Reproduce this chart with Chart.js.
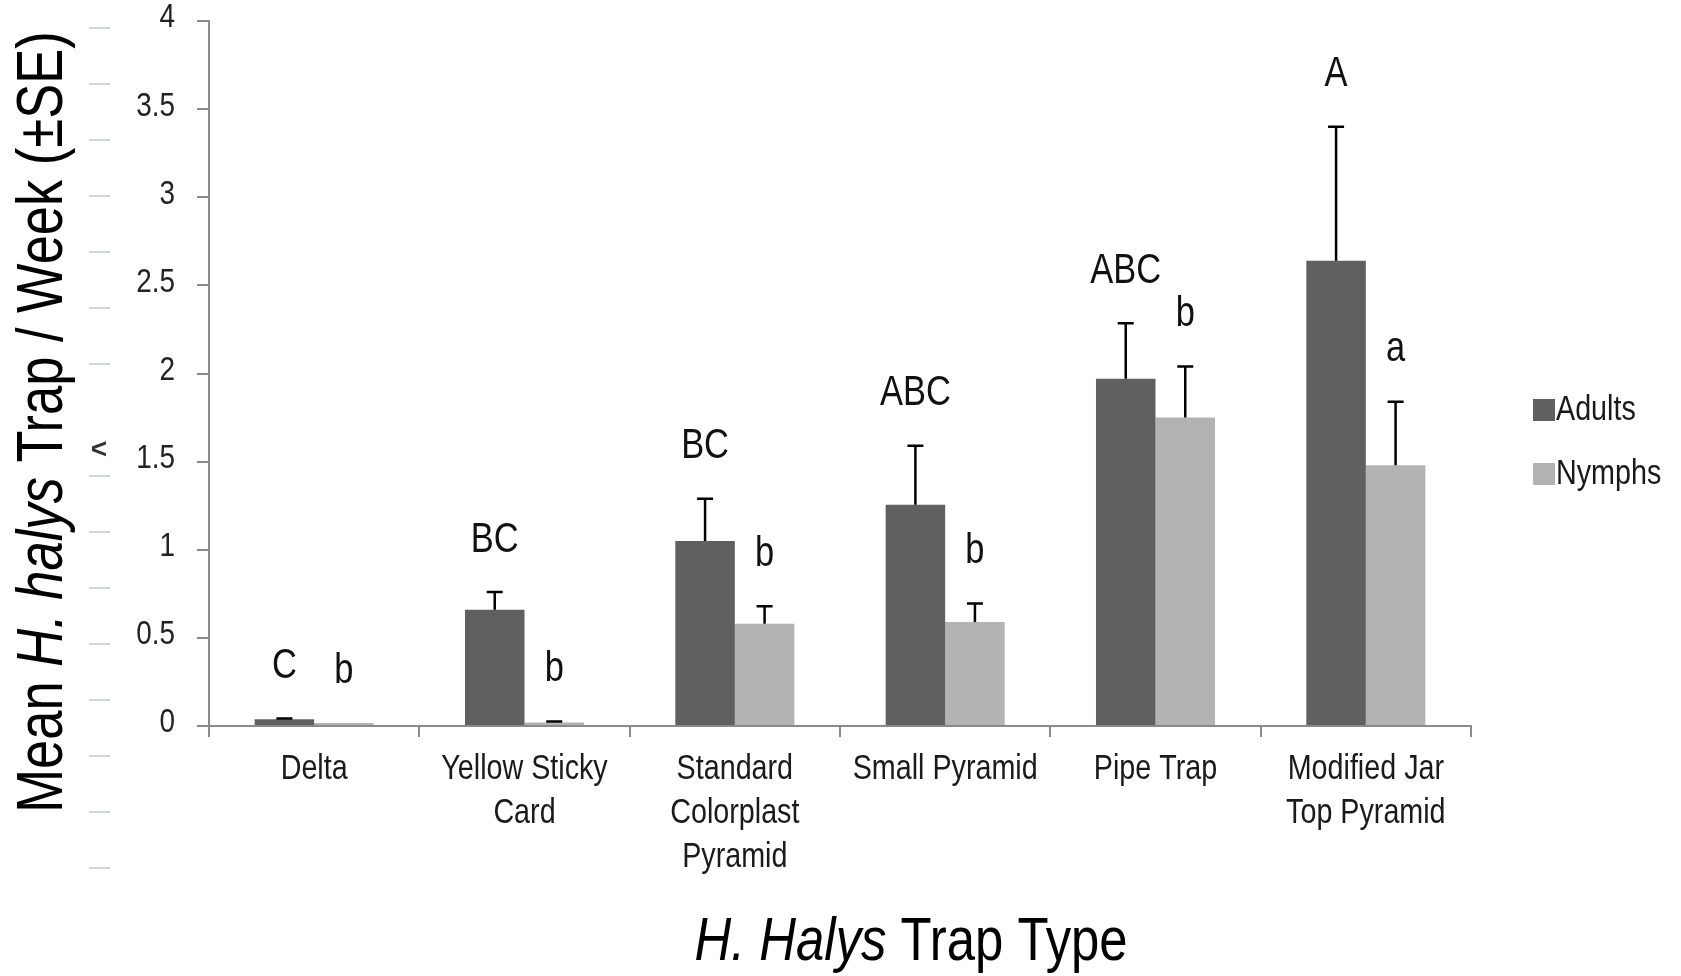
<!DOCTYPE html>
<html>
<head>
<meta charset="utf-8">
<script src="https://cdn.jsdelivr.net/npm/chart.js@4/dist/chart.umd.min.js"></script>
<style>
  html, body { margin: 0; padding: 0; background: #fff; }
  #wrap { width: 1681px; height: 976px; }
</style>
</head>
<body>
<div id="wrap"><canvas id="chart" width="1681" height="976"></canvas></div>
<script>
const categories = [
  ['Delta'],
  ['Yellow Sticky', 'Card'],
  ['Standard', 'Colorplast', 'Pyramid'],
  ['Small Pyramid'],
  ['Pipe Trap'],
  ['Modified Jar', 'Top Pyramid']
];
const adults = [0.038, 0.66, 1.05, 1.255, 1.97, 2.64];
const adultsSE = [0.005, 0.10, 0.24, 0.335, 0.315, 0.76];
const nymphs = [0.017, 0.02, 0.58, 0.59, 1.75, 1.48];
const nymphsSE = [0, 0.006, 0.10, 0.105, 0.29, 0.36];
const adultLetters = ['C', 'BC', 'BC', 'ABC', 'ABC', 'A'];
const nymphLetters = ['b', 'b', 'b', 'b', 'b', 'a'];
const yTicks = [0, 0.5, 1, 1.5, 2, 2.5, 3, 3.5, 4];

// no Arial Narrow here, so squeeze Liberation Sans sideways
const FAMILY = "'Liberation Sans', Arial, sans-serif";
const SQUEEZE = 0.82;
const AXIS_GRAY = '#8a8a8a';

function narrowText(ctx, text, x, y, size, align, italic) {
  ctx.save();
  ctx.translate(x, y);
  ctx.scale(SQUEEZE, 1);
  ctx.font = (italic ? 'italic ' : '') + size + 'px ' + FAMILY;
  ctx.textAlign = align;
  ctx.textBaseline = 'middle';
  ctx.fillText(text, 0, 0);
  ctx.restore();
}

// segments of [text, italic], centred on the current origin
function richText(ctx, segs, size) {
  const w = segs.map(s => {
    ctx.font = (s[1] ? 'italic ' : '') + size + 'px ' + FAMILY;
    return ctx.measureText(s[0]).width * SQUEEZE;
  });
  let x = -w.reduce((a, b) => a + b, 0) / 2;
  segs.forEach((s, i) => {
    narrowText(ctx, s[0], x, 0, size, 'left', s[1]);
    x += w[i];
  });
}

const extras = {
  id: 'extras',
  afterDatasetsDraw(chart) {
    const ctx = chart.ctx;
    const y = chart.scales.y;
    const sets = [[adultsSE, adultLetters], [nymphsSE, nymphLetters]];
    ctx.save();
    sets.forEach((s, di) => {
      const meta = chart.getDatasetMeta(di);
      const vals = chart.data.datasets[di].data;
      meta.data.forEach((bar, i) => {
        const top = y.getPixelForValue(vals[i] + s[0][i]);
        if (s[0][i] > 0) {
          ctx.strokeStyle = '#000';
          ctx.lineWidth = 2.5;
          ctx.beginPath();
          ctx.moveTo(bar.x, bar.y);
          ctx.lineTo(bar.x, top);
          ctx.moveTo(bar.x - 8, top);
          ctx.lineTo(bar.x + 8, top);
          ctx.stroke();
        }
        ctx.fillStyle = '#111';
        narrowText(ctx, s[1][i], bar.x, top - 52, 42, 'center', false);
      });
    });
    ctx.restore();
  },
  afterDraw(chart) {
    const ctx = chart.ctx;
    const xs = chart.scales.x;
    const ys = chart.scales.y;
    const area = chart.chartArea;
    ctx.save();

    // category labels
    ctx.fillStyle = '#1a1a1a';
    categories.forEach((lines, i) => {
      const px = xs.getPixelForValue(i);
      lines.forEach((t, j) => narrowText(ctx, t, px, area.bottom + 43 + 44 * j, 35, 'center', false));
    });

    // value labels
    ctx.fillStyle = '#222';
    yTicks.forEach(v => narrowText(ctx, String(v), area.left - 34, ys.getPixelForValue(v) - 3, 34, 'right', false));

    // faint marks at far left
    ctx.strokeStyle = '#cdd5e2';
    ctx.lineWidth = 2;
    for (let k = 0; k < 16; k++) {
      if (k === 7) continue;
      const yy = 28 + 56 * k;
      ctx.beginPath();
      ctx.moveTo(89, yy);
      ctx.lineTo(110, yy);
      ctx.stroke();
    }
    ctx.fillStyle = '#333';
    ctx.font = 'bold 28px ' + FAMILY;
    ctx.textAlign = 'center';
    ctx.textBaseline = 'middle';
    ctx.fillText('<', 99, 450);

    // axis titles
    ctx.fillStyle = '#000';
    ctx.save();
    ctx.translate(44, 422);
    ctx.rotate(-Math.PI / 2);
    richText(ctx, [['Mean ', false], ['H. halys', true], [' Trap / Week (\u00b1SE)', false]], 64);
    ctx.restore();

    ctx.save();
    ctx.translate(911, 943);
    richText(ctx, [['H. Halys', true], [' Trap Type', false]], 62);
    ctx.restore();

    // legend
    chart.data.datasets.forEach((ds, i) => {
      const cy = 410 + 64 * i;
      ctx.fillStyle = ds.backgroundColor;
      ctx.fillRect(1533, cy - 11, 22, 22);
      ctx.fillStyle = '#1a1a1a';
      narrowText(ctx, ds.label, 1556, cy, 35, 'left', false);
    });
    ctx.restore();
  }
};

new Chart(document.getElementById('chart'), {
  type: 'bar',
  data: {
    labels: categories,
    datasets: [
      { label: 'Adults', data: adults, backgroundColor: '#606060' },
      { label: 'Nymphs', data: nymphs, backgroundColor: '#b3b3b3' }
    ]
  },
  options: {
    responsive: false,
    devicePixelRatio: 1,
    animation: false,
    layout: { padding: { left: 0, right: 210, top: 21, bottom: 0 } },
    datasets: { bar: { categoryPercentage: 0.566, barPercentage: 1 } },
    plugins: { legend: { display: false }, tooltip: { enabled: false } },
    scales: {
      x: {
        grid: { drawOnChartArea: false, tickLength: 11, color: AXIS_GRAY, lineWidth: 2 },
        border: { color: AXIS_GRAY, width: 2 },
        ticks: { display: false },
        afterFit(s) { s.height = 250; }
      },
      y: {
        min: 0, max: 4,
        afterBuildTicks(s) { s.ticks = yTicks.map(v => ({ value: v })); },
        grid: { drawOnChartArea: false, tickLength: 12, color: AXIS_GRAY, lineWidth: 2 },
        border: { color: AXIS_GRAY, width: 2 },
        ticks: { display: false },
        afterFit(s) { s.width = 209; s.paddingTop = 0; s.paddingBottom = 0; }
      }
    }
  },
  plugins: [extras]
});
</script>
</body>
</html>
